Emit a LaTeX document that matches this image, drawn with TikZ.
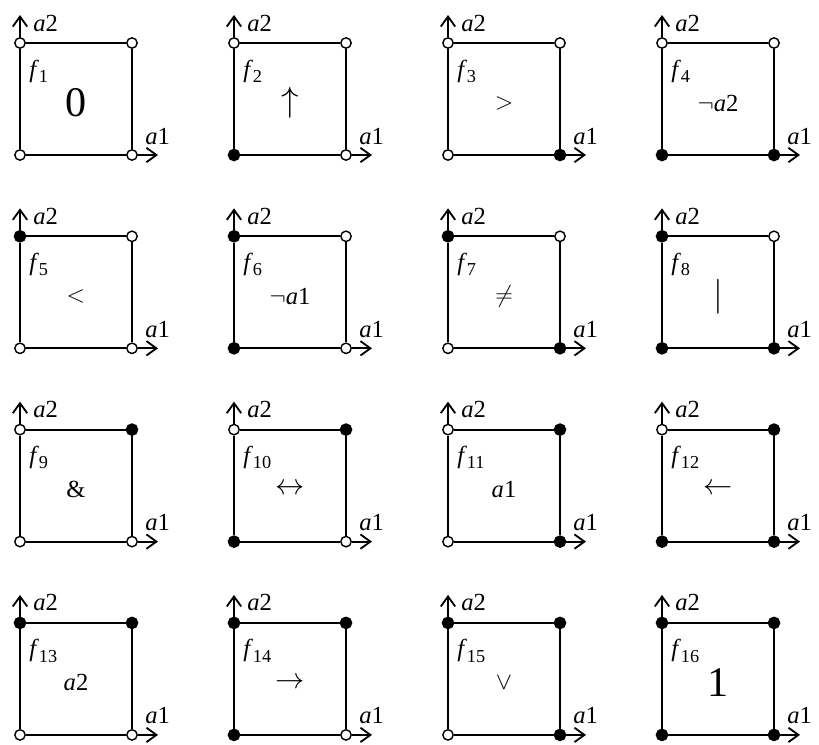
\documentclass[tikz,border=0pt]{standalone}
\usepackage{amsmath,amssymb}
\usepackage{fontspec}
\setmainfont{Liberation Serif}
\usetikzlibrary{arrows.meta}

\tikzset{
  offpt/.style={circle, draw, fill=white, line width=1pt, inner sep=0pt, minimum size=2.6mm},
  onpt/.style={circle, draw, fill=black, line width=1pt, inner sep=0pt, minimum size=2.8mm},
  edge/.style={line width=1.5pt},
  axis/.style={line width=1.3pt, -{Straight Barb[length=2.5mm,width=3.6mm]}},
  lbl/.style={anchor=base west, inner sep=0pt},
}
\newcommand{\vname}[1]{\textit{a}#1}
\newcommand{\fname}[1]{\textit{f}\raisebox{-0.45ex}{\fontsize{13}{15}\selectfont #1}}
\newcommand{\bigsym}{\fontsize{30}{32}\selectfont}

\begin{document}
\begin{tikzpicture}[x=0.025cm, y=-0.025cm, font=\fontsize{17.5}{20}\selectfont]
    \useasboundingbox (0,0) rectangle (819,744);

    % n / corners (bottom-left, bottom-right, top-left, top-right) / symbol
    \foreach \n/\bl/\br/\tl/\tr/\sym in {
      1/offpt/offpt/offpt/offpt/{\bigsym 0},
      2/onpt/offpt/offpt/offpt/{\fontsize{26}{28}\selectfont$\uparrow$},
      3/offpt/onpt/offpt/offpt/{$>$},
      4/onpt/onpt/offpt/offpt/{$\neg$\vname{2}},
      5/offpt/offpt/onpt/offpt/{$<$},
      6/onpt/offpt/onpt/offpt/{$\neg$\vname{1}},
      7/offpt/onpt/onpt/offpt/{$\neq$},
      8/onpt/onpt/onpt/offpt/{\fontsize{24}{26}\selectfont$|$},
      9/offpt/offpt/offpt/onpt/{\&},
      10/onpt/offpt/offpt/onpt/{\fontsize{22}{24}\selectfont$\leftrightarrow$},
      11/offpt/onpt/offpt/onpt/{\vname{1}},
      12/onpt/onpt/offpt/onpt/{\fontsize{20}{22}\selectfont$\leftarrow$},
      13/offpt/offpt/onpt/onpt/{\vname{2}},
      14/onpt/offpt/onpt/onpt/{\fontsize{20}{22}\selectfont$\rightarrow$},
      15/offpt/onpt/onpt/onpt/{$\vee$},
      16/onpt/onpt/onpt/onpt/{\bigsym 1}}
    {
      \pgfmathsetmacro{\cx}{20+214*mod(\n-1,4)}
      \pgfmathsetmacro{\cy}{43+193.3*int((\n-1)/4)}
      \begin{scope}[shift={(\cx,\cy)}]
        \node[\tl] (tl\n) at (0,0) {};
        \node[\tr] (tr\n) at (112,0) {};
        \node[\bl] (bl\n) at (0,112) {};
        \node[\br] (br\n) at (112,112) {};
        \draw[edge] (tl\n) -- (tr\n) -- (br\n) -- (bl\n) -- (tl\n);

        \coordinate (up\n) at (0,-28);
        \coordinate (rt\n) at (138,112);
        \draw[axis] (tl\n) -- (up\n);
        \draw[axis] (br\n) -- (rt\n);
        \node[lbl] (atwo\n) at (13,-12) {\vname{2}};
        \node[lbl] (aone\n) at (125,101) {\vname{1}};

        \node[anchor=west, inner sep=0pt] (f\n) at (9,28) {\fname{\n}};
        \node (sym\n) at (56,60) {\sym};
      \end{scope}
    }
\end{tikzpicture}
\end{document}
